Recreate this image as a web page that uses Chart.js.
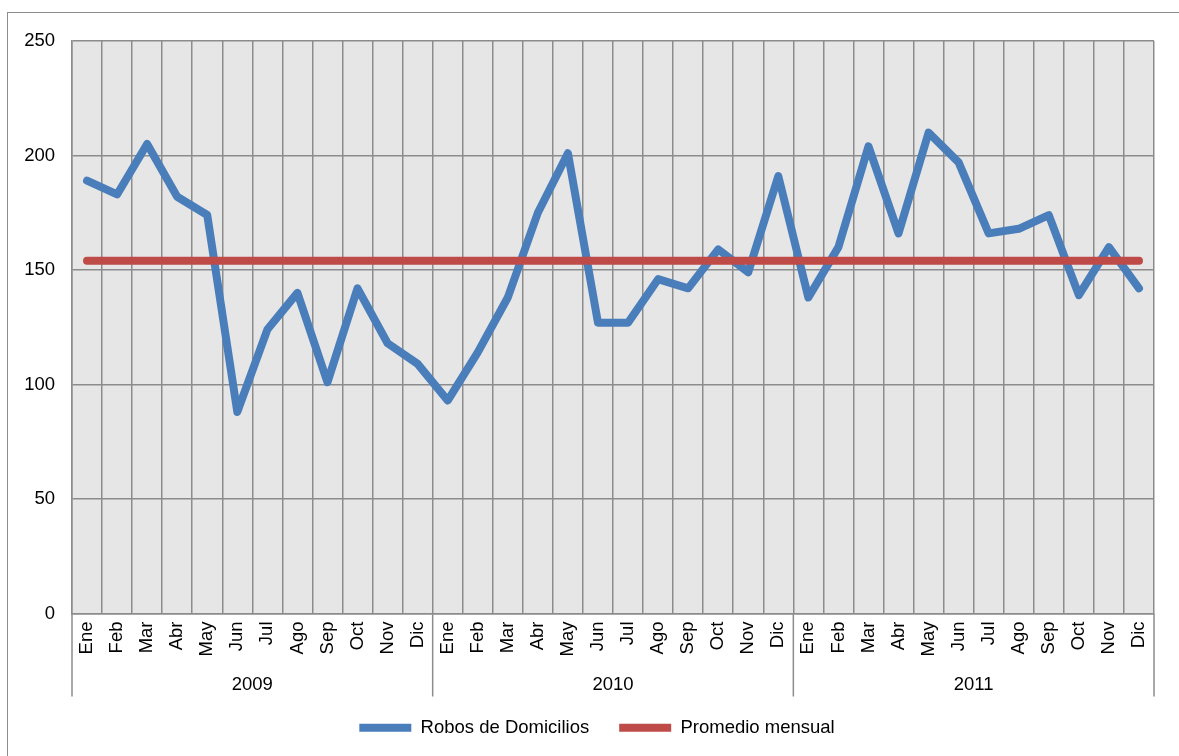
<!DOCTYPE html>
<html>
<head>
<meta charset="utf-8">
<script src="https://cdn.jsdelivr.net/npm/chart.js@4/dist/chart.umd.min.js"></script>
<style>
html, body { margin: 0; padding: 0; background: #fff; overflow: hidden; }
#frame { position: absolute; left: 7px; top: 12px; width: 1200px; height: 800px;
  border-left: 1.5px solid #8c8c8c; border-top: 1.5px solid #8c8c8c; }
#wrap { position: absolute; left: 0; top: 0; width: 1179px; height: 756px; }
</style>
</head>
<body>
<div id="frame"></div>
<div id="wrap"><canvas id="myChart"></canvas></div>
<script>
var years = ['2009', '2010', '2011'];
var months = ['Ene', 'Feb', 'Mar', 'Abr', 'May', 'Jun', 'Jul', 'Ago', 'Sep', 'Oct', 'Nov', 'Dic'];
var yTicks = [0, 50, 100, 150, 200, 250];

var robos2009 = [189, 183, 205, 182, 174, 88, 124, 140, 101, 142, 118, 109];
var robos2010 = [93, 114, 138, 175, 201, 127, 127, 146, 142, 159, 149, 191];
var robos2011 = [138, 160, 204, 166, 210, 197, 166, 168, 174, 139, 160, 142];

var promedio = [154, 154, 154, 154, 154, 154, 154, 154, 154, 154, 154, 154,
  154, 154, 154, 154, 154, 154, 154, 154, 154, 154, 154, 154,
  154, 154, 154, 154, 154, 154, 154, 154, 154, 154, 154, 154];

var labels = months.concat(months, months);
var robos = robos2009.concat(robos2010, robos2011);

Chart.defaults.font.family = "'Liberation Sans', Arial, sans-serif";
Chart.defaults.font.size = 18.5;
Chart.defaults.color = '#000';

// vertical separators under the axis: plot edges and year boundaries
var yearLines = {
  id: 'yearLines',
  afterDraw: function(chart) {
    var x = chart.scales.x, ctx = chart.ctx;
    var edges = [x.left];
    for (var i = months.length; i < labels.length; i += months.length) {
      edges.push((x.getPixelForValue(i - 1) + x.getPixelForValue(i)) / 2);
    }
    edges.push(x.right);
    ctx.save();
    ctx.strokeStyle = '#8c8c8c';
    ctx.lineWidth = 1.5;
    edges.forEach(function(px) {
      ctx.beginPath();
      ctx.moveTo(px, chart.chartArea.bottom);
      ctx.lineTo(px, chart.chartArea.bottom + 83);
      ctx.stroke();
    });
    ctx.restore();
  }
};

var plotBg = {
  id: 'plotBg',
  beforeDraw: function(chart) {
    var a = chart.chartArea, ctx = chart.ctx;
    ctx.save();
    ctx.fillStyle = '#e6e6e6';
    ctx.fillRect(a.left, a.top, a.right - a.left, a.bottom - a.top);
    ctx.restore();
  }
};

// nudge legend a bit to the right, like the original
var legendShift = {
  id: 'legendShift',
  afterLayout: function(chart) {
    chart.legend.left += 20;
    chart.legend.right += 20;
  }
};

var ctx = document.getElementById('myChart').getContext('2d');
var myChart = new Chart(ctx, {
  type: 'line',
  data: {
    labels: labels,
    datasets: [{
      label: 'Robos de Domicilios',
      data: robos,
      borderColor: '#4a7ebb',
      backgroundColor: '#4a7ebb',
      borderWidth: 8,
      pointRadius: 0,
      borderJoinStyle: 'round',
      borderCapStyle: 'round',
      order: 1
    },
    {
      label: 'Promedio mensual',
      data: promedio,
      borderColor: '#be4b48',
      backgroundColor: '#be4b48',
      borderWidth: 8,
      pointRadius: 0,
      borderCapStyle: 'round',
      order: 0
    }]
  },
  options: {
    responsive: true,
    maintainAspectRatio: false,
    animation: false,
    layout: { padding: { top: 41, right: 25, left: 0, bottom: 9 } },
    plugins: {
      tooltip: { enabled: false },
      legend: {
        position: 'bottom',
        labels: {
          usePointStyle: true,
          pointStyle: 'line',
          pointStyleWidth: 52,
          padding: 30,
          color: '#000',
          font: { size: 18.5 },
          sort: function(a, b) { return a.datasetIndex - b.datasetIndex; }
        }
      }
    },
    scales: {
      x: {
        type: 'category',
        offset: true,
        weight: 0,
        grid: { offset: true, color: '#8c8c8c', lineWidth: 1.5, drawTicks: false },
        border: { color: '#8c8c8c', width: 1.5 },
        ticks: { minRotation: 90, maxRotation: 90, autoSkip: false, padding: 8, font: { size: 18.5 } },
        afterFit: function(s) { s.height = 56; }
      },
      year: {
        type: 'category',
        labels: years,
        position: 'bottom',
        offset: true,
        weight: 1,
        grid: { display: false, drawTicks: false },
        border: { display: false },
        ticks: { mirror: true, padding: -27, font: { size: 18.5 } },
        afterFit: function(s) { s.height = 19; }
      },
      y: {
        min: 0,
        max: 250,
        afterBuildTicks: function(s) { s.ticks = yTicks.map(function(v) { return { value: v }; }); },
        grid: { color: '#8c8c8c', lineWidth: 1.5, drawTicks: false },
        border: { color: '#8c8c8c', width: 1.5 },
        ticks: { padding: 17, font: { size: 18.5 } },
        afterFit: function(s) { s.width = 72; }
      }
    }
  },
  plugins: [plotBg, yearLines, legendShift]
});
</script>
</body>
</html>
